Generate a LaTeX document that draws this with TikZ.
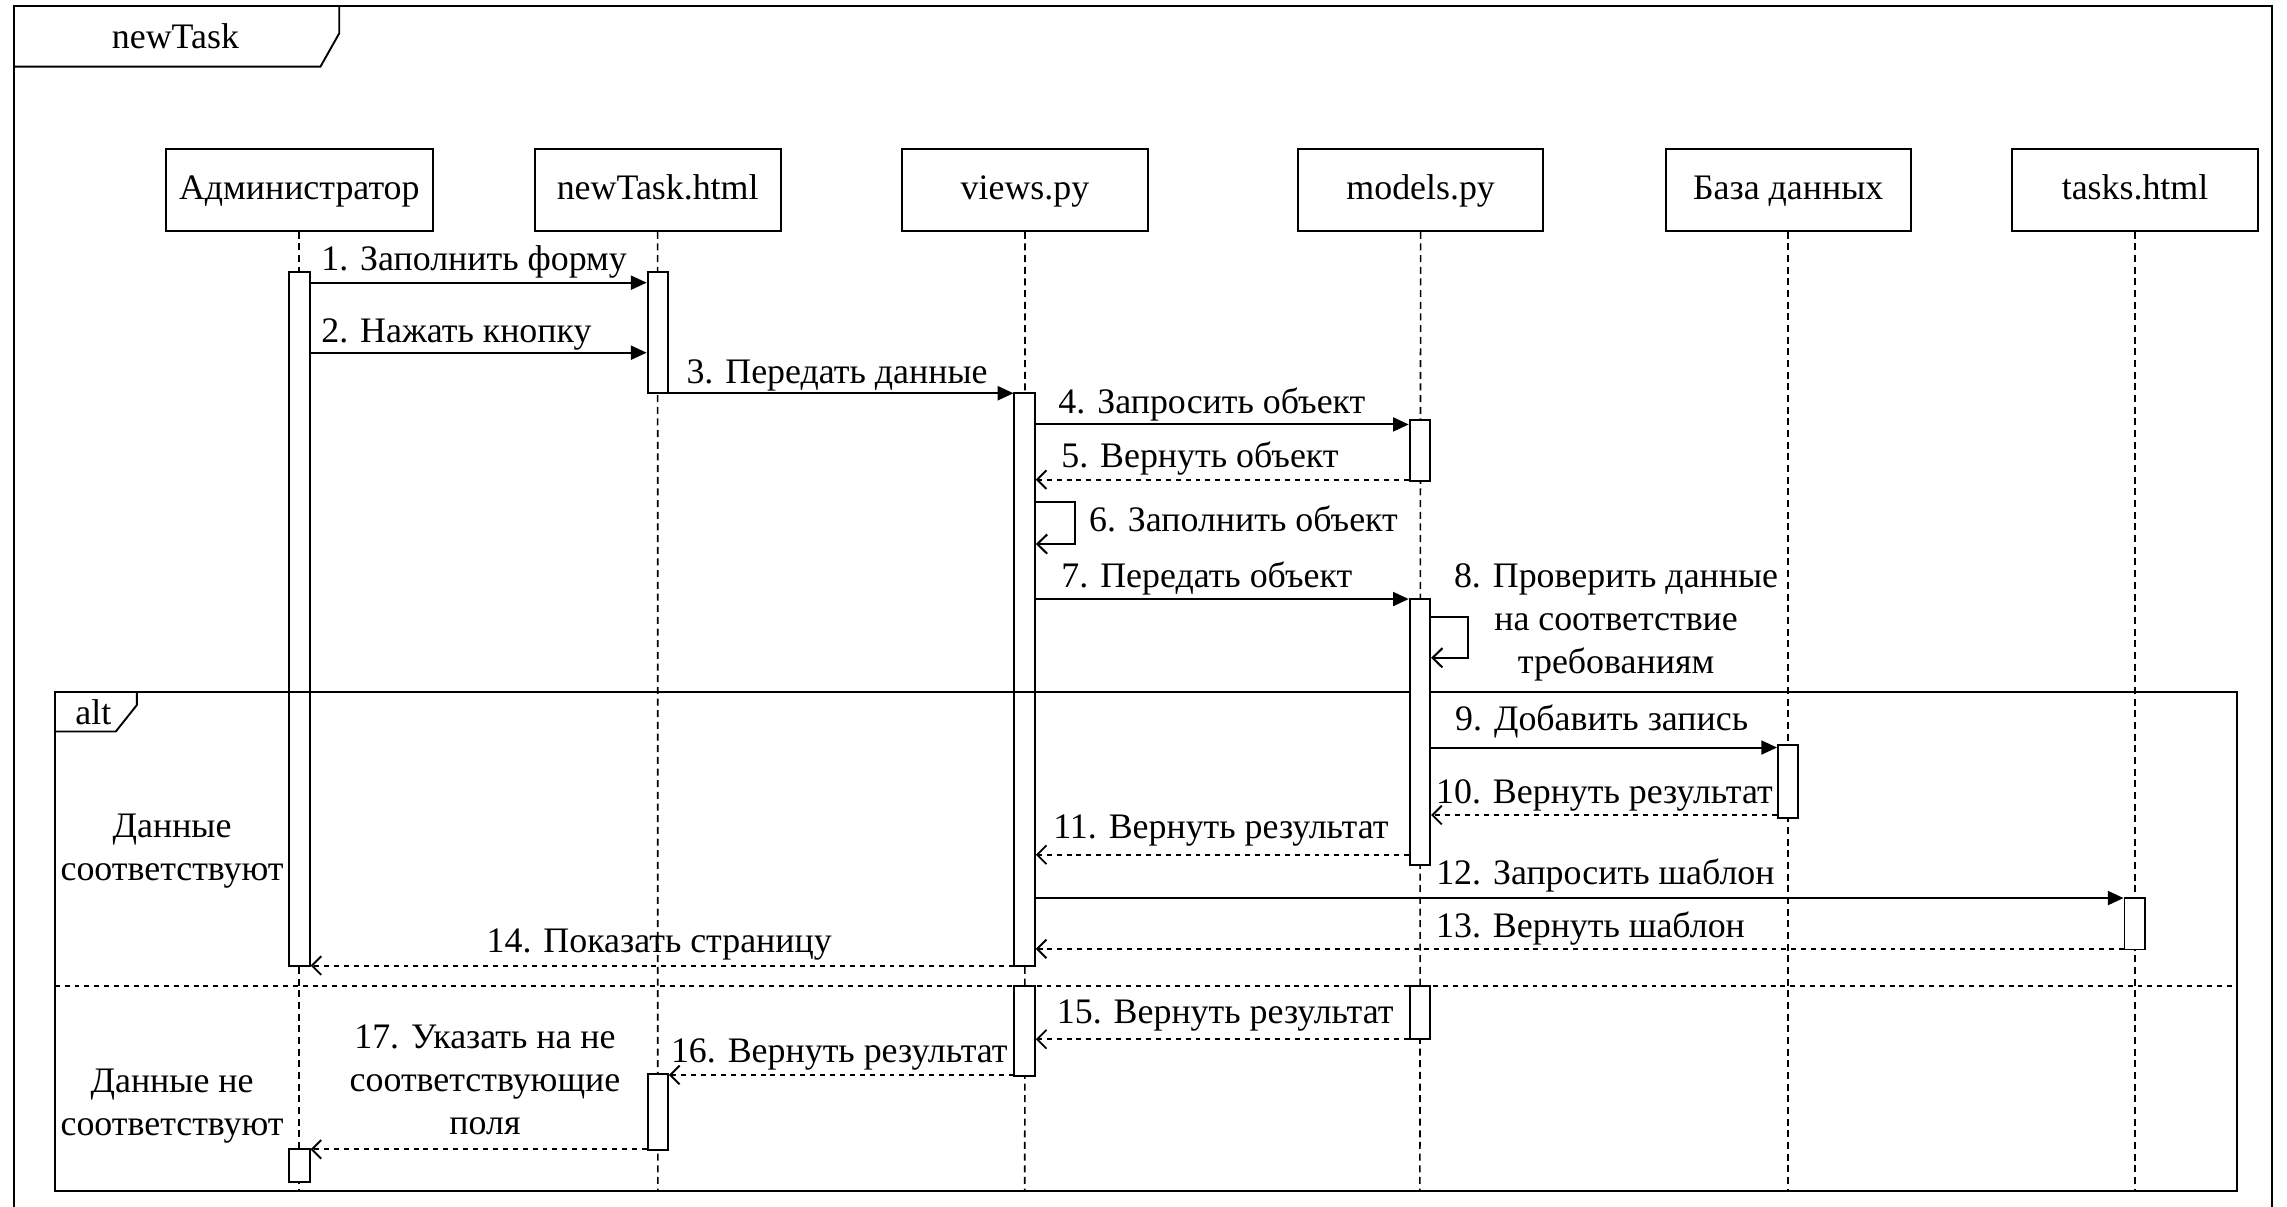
\documentclass[tikz,border=0pt]{standalone}
\usepackage{fontspec}
\setmainfont{Liberation Serif}
\usetikzlibrary{arrows.meta}
\begin{document}
\begin{tikzpicture}[x=0.5pt,y=-0.5pt,
  font=\fontsize{12.3pt}{14.75pt}\selectfont,
  head/.style={draw, line width=0.65pt, minimum height=28.15pt, inner sep=0pt, fill=white, text height=0.9em, text depth=0.2em},
  act/.style={draw, fill=white, line width=0.65pt, minimum width=7pt, inner sep=0pt},
  life/.style={line width=0.55pt, dash pattern=on 2.4pt off 1.6pt},
  call/.style={line width=0.7pt, -{Triangle[length=5.4pt,width=4.8pt]}},
  selfcall/.style={line width=0.7pt, -{Straight Barb[length=3.4pt,width=6.6pt]}},
  ret/.style={line width=0.65pt, dash pattern=on 1.7pt off 1.7pt, -{Straight Barb[length=3.2pt,width=6.4pt]}},
  lbl/.style={inner sep=0pt, anchor=mid west, yshift=-1.5pt},
  ctext/.style={inner sep=0pt, align=center},
  frameline/.style={line width=0.65pt}]
\useasboundingbox (0,0) rectangle (1568,827);
\clip (0,0) rectangle (1568,827);
% outer frame
\draw[frameline] (9.6,840) -- (9.6,4) -- (1558,4) -- (1558,840);
\draw[frameline] (9.6,45.7) -- (219.7,45.7) -- (232.6,22.8) -- (232.6,4);
\node[ctext] (title) at (120.3,25) {newTask};
% heads
\node[head, minimum width=91.5pt] (admin) at (205.2,130.1) {Администратор};
\node[head, minimum width=84.3pt] (form) at (450.9,130.1) {newTask.html};
\node[head, minimum width=84.3pt] (views) at (702.75,130.1) {views.py};
\node[head, minimum width=84pt] (models) at (974,130.1) {models.py};
\node[head, minimum width=84pt] (db) at (1226,130.1) {База данных};
\node[head, minimum width=84.2pt] (tasks) at (1463.8,130.1) {tasks.html};
% lifeline ends
\coordinate (adminE) at (205.2,816);
\coordinate (formE) at (451,816);
\coordinate (viewsE) at (702.6,816);
\coordinate (modelsE) at (973.5,816);
\coordinate (dbE) at (1226,816);
\coordinate (tasksE) at (1463.8,816);
\draw[life] (admin.south) -- (adminE);
\draw[life] (form.south) -- (formE);
\draw[life] (views.south) -- (viewsE);
\draw[life] (models.south) -- (modelsE);
\draw[life] (db.south) -- (dbE);
\draw[life] (tasks.south) -- (tasksE);
% activations (left part)
\node[act, minimum height=237.95pt] (a1) at (205.3,424.25) {};
\node[act, minimum height=11.25pt] (a2) at (205.3,799.25) {};
\node[act, minimum height=41.65pt] (n1) at (451,227.95) {};
\node[act, minimum height=25.95pt] (n2) at (451,762.45) {};
\node[act, minimum height=196.3pt] (v1) at (702.5,465.9) {};
\node[act, minimum height=30.8pt] (v2) at (702.5,706.8) {};
% alt frame
\draw[frameline] (37.5,474.4) rectangle (1533.5,816.3);
\draw[frameline] (37.5,501.5) -- (79.4,501.5) -- (93.8,483.4) -- (93.8,474.4);
\node[ctext] (altlbl) at (64,488.5) {alt};
\coordinate (sepL) at (37.5,676);
\coordinate (sepR) at (1533.5,676);
\draw[line width=0.65pt, dash pattern=on 1.7pt off 1.7pt] (sepL) -- (sepR);
% activations (right part)
\node[act, minimum height=21pt] (m1) at (973.5,309) {};
\node[act, minimum height=91.15pt] (m2) at (973.5,501.85) {};
\node[act, minimum height=18.2pt] (m3) at (973.5,694.2) {};
\node[act, minimum height=25.1pt] (d1) at (1226,535.9) {};
\node[act, minimum height=17.65pt] (t1) at (1463.6,633.35) {};
% message levels
\coordinate (y1) at (0,193.8);
\coordinate (y2) at (0,241.8);
\coordinate (y3) at (0,269.6);
\coordinate (y4) at (0,291);
\coordinate (y5) at (0,328.8);
\coordinate (y6a) at (0,344);
\coordinate (y6b) at (0,373);
\coordinate (s6) at (736.7,344);
\coordinate (y7) at (0,410.7);
\coordinate (y8a) at (0,422.7);
\coordinate (y8b) at (0,451);
\coordinate (s8) at (1006.6,422.7);
\coordinate (y9) at (0,512.5);
\coordinate (y10) at (0,558.8);
\coordinate (y11) at (0,586);
\coordinate (y12) at (0,615.7);
\coordinate (y13) at (0,650.5);
\coordinate (y14) at (0,662);
\coordinate (y15) at (0,712.5);
\coordinate (y16) at (0,737);
\coordinate (y17) at (0,788);
% messages
\draw[call] (a1.east |- y1) -- (n1.west |- y1) node[lbl] at (219.6,178) {1. Заполнить форму};
\draw[call] (a1.east |- y2) -- (n1.west |- y2) node[lbl] at (219.6,227.4) {2. Нажать кнопку};
\draw[call] (n1.east |- y3) -- (v1.west |- y3) node[lbl] at (470,255.5) {3. Передать данные};
\draw[call] (v1.east |- y4) -- (m1.west |- y4) node[lbl] at (725,275.6) {4. Запросить объект};
\draw[ret] (m1.west |- y5) -- (v1.east |- y5) node[lbl] at (727,312.7) {5. Вернуть объект};
\draw[selfcall] (v1.east |- y6a) -- (s6) |- (v1.east |- y6b) node[lbl] at (746,357) {6. Заполнить объект};
\draw[call] (v1.east |- y7) -- (m2.west |- y7) node[lbl] at (727,395) {7. Передать объект};
\draw[selfcall] (m2.east |- y8a) -- (s8) |- (m2.east |- y8b) node[ctext] at (1108,427) {8. Проверить данные\\на соответствие\\требованиям};
\draw[call] (m2.east |- y9) -- (d1.west |- y9) node[lbl] at (997,493) {9. Добавить запись};
\draw[ret] (d1.west |- y10) -- (m2.east |- y10) node[lbl] at (984,543) {10. Вернуть результат};
\draw[ret] (m2.west |- y11) -- (v1.east |- y11) node[lbl] at (721.5,567.5) {11. Вернуть результат};
\draw[call] (v1.east |- y12) -- (t1.west |- y12) node[lbl] at (984,599) {12. Запросить шаблон};
\draw[ret] (t1.west |- y13) -- (v1.east |- y13) node[lbl] at (984,635) {13. Вернуть шаблон};
\draw[ret] (v1.west |- y14) -- (a1.east |- y14) node[lbl] at (333,645.7) {14. Показать страницу};
\draw[ret] (m3.west |- y15) -- (v2.east |- y15) node[lbl] at (724,694) {15. Вернуть результат};
\draw[ret] (v2.west |- y16) -- (n2.east |- y16) node[lbl] at (459.4,721) {16. Вернуть результат};
\draw[ret] (n2.west |- y17) -- (a2.east |- y17) node[ctext] at (332.5,740.5) {17. Указать на не\\соответствующие\\поля};
% guards
\node[ctext] (g1) at (118,583.5) {Данные\\соответствуют};
\node[ctext] (g2) at (118,758.5) {Данные не\\соответствуют};
\end{tikzpicture}
\end{document}
